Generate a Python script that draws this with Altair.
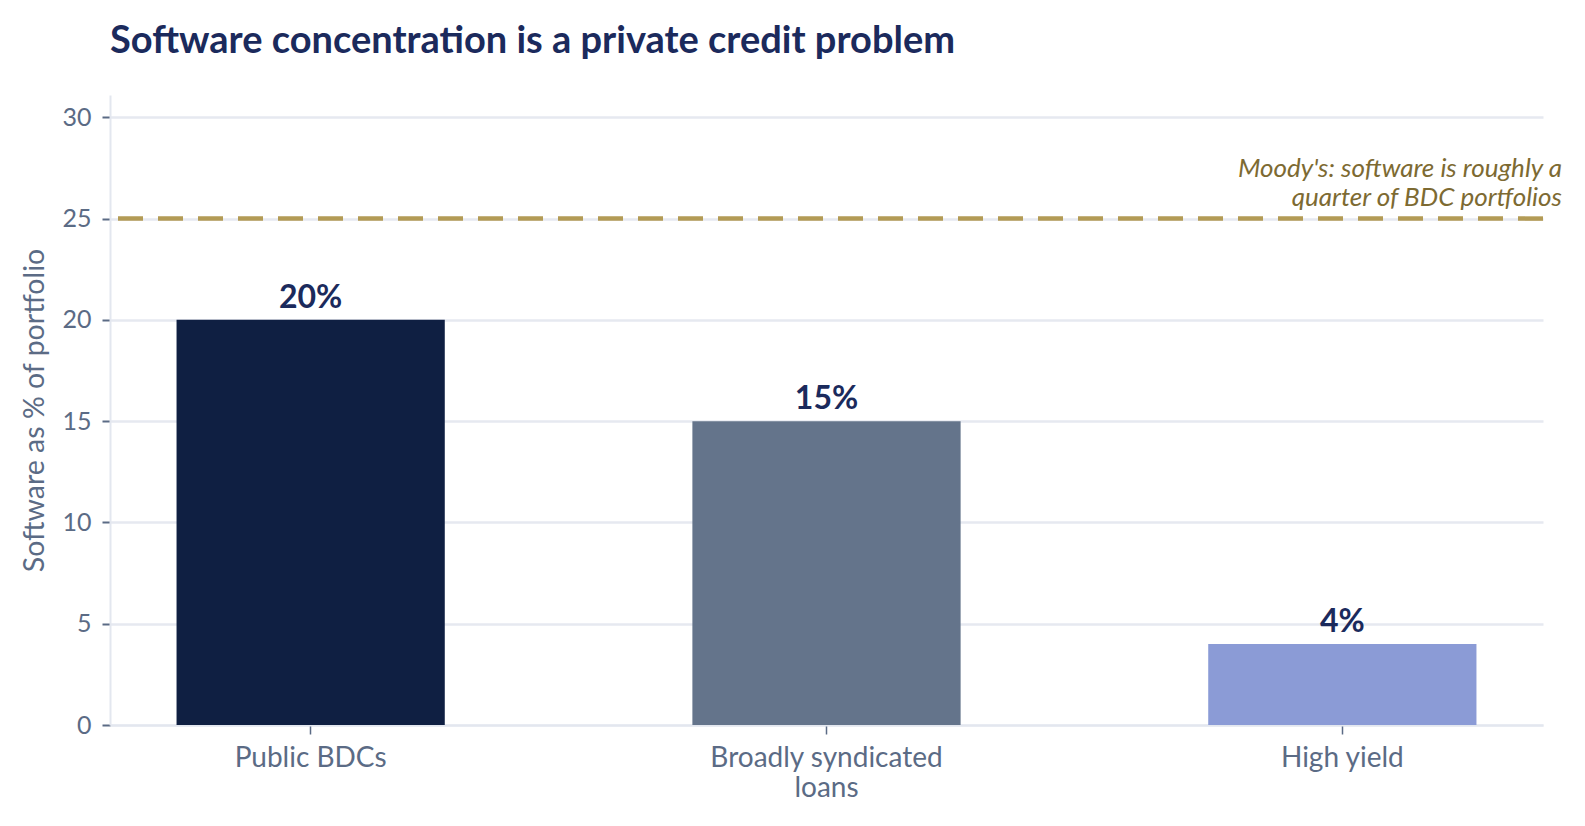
import altair as alt
import pandas as pd

# Chart values
categories = ["Public BDCs", "Broadly syndicated loans", "High yield"]
shares = [20, 15, 4]
bar_colors = ["#0f1f42", "#64748b", "#8b9bd6"]
moodys_level = 25
moodys_note = ["Moody's: software is roughly a", "quarter of BDC portfolios"]

df = pd.DataFrame({
    "category": categories,
    "share": shares,
    "label": [f"{v}%" for v in shares],
})

W, H = 1433, 630
FONT = "Lato"
GREY = "#5b6b85"

x_enc = alt.X(
    "category:N",
    sort=categories,
    title=None,
    scale=alt.Scale(paddingInner=0.48, paddingOuter=0.129),
    axis=alt.Axis(
        labelAngle=0,
        labelExpr=(
            "datum.value == 'Broadly syndicated loans' ? "
            "['Broadly syndicated', 'loans'] : datum.value"
        ),
        labelFontSize=28,
        labelColor=GREY,
        labelLineHeight=30,
        labelLimit=400,
        labelPadding=10,
        tickColor=GREY,
        tickSize=9,
        tickWidth=1.5,
        domainColor="#e3e7ef",
        domainWidth=2,
        grid=False,
    ),
)

y_scale = alt.Scale(domain=[0, 31.1], nice=False)

bars = alt.Chart(df).mark_bar().encode(
    x=x_enc,
    y=alt.Y(
        "share:Q",
        scale=y_scale,
        title="Software as % of portfolio",
        axis=alt.Axis(
            values=[0, 5, 10, 15, 20, 25, 30],
            labelFontSize=25,
            labelColor=GREY,
            labelPadding=11,
            tickColor=GREY,
            tickSize=8,
            tickWidth=2,
            domainColor="#e3e7ef",
            domainWidth=2,
            gridColor="#e6e9f0",
            gridWidth=2.5,
            titleFontSize=28.5,
            titleFontWeight="normal",
            titleColor=GREY,
            titlePadding=12,
        ),
    ),
    color=alt.Color(
        "category:N",
        scale=alt.Scale(domain=categories, range=bar_colors),
        legend=None,
    ),
)

values = alt.Chart(df).mark_text(
    font=FONT, fontSize=32, fontWeight="bold", color="#1b2a5c",
    baseline="alphabetic", dy=-12,
).encode(
    x=alt.X("category:N", sort=categories),
    y=alt.Y("share:Q", scale=y_scale),
    text="label:N",
)

ref_df = pd.DataFrame({"level": [moodys_level], "note": [moodys_note]})

ref_line = alt.Chart(ref_df).mark_rule(
    color="#b39b55", strokeWidth=4.5, strokeDash=[25, 15],
).encode(y=alt.Y("level:Q", scale=y_scale))

ref_text = alt.Chart(ref_df).mark_text(
    font=FONT, fontSize=26, fontStyle="italic", color="#7d6a32",
    align="right", baseline="alphabetic", dx=19, dy=-42, lineHeight=29,
).encode(
    x=alt.value(W),
    y=alt.Y("level:Q", scale=y_scale),
    text="note",
)

chart = alt.layer(bars, ref_line, values, ref_text).properties(
    width=W,
    height=H,
    autosize=alt.AutoSizeParams(type="none"),
    padding={"left": 102, "top": 87, "right": 34, "bottom": 90},
    background="white",
    title=alt.TitleParams(
        "Software concentration is a private credit problem",
        anchor="start",
        frame="group",
        font=FONT,
        fontSize=38,
        fontWeight="bold",
        color="#1b2a5c",
        offset=34,
    ),
).configure_axis(
    labelFont=FONT,
    titleFont=FONT,
).configure_view(
    strokeWidth=0,
)

chart.save("out.html", embed_options={"renderer": "svg", "actions": False})
